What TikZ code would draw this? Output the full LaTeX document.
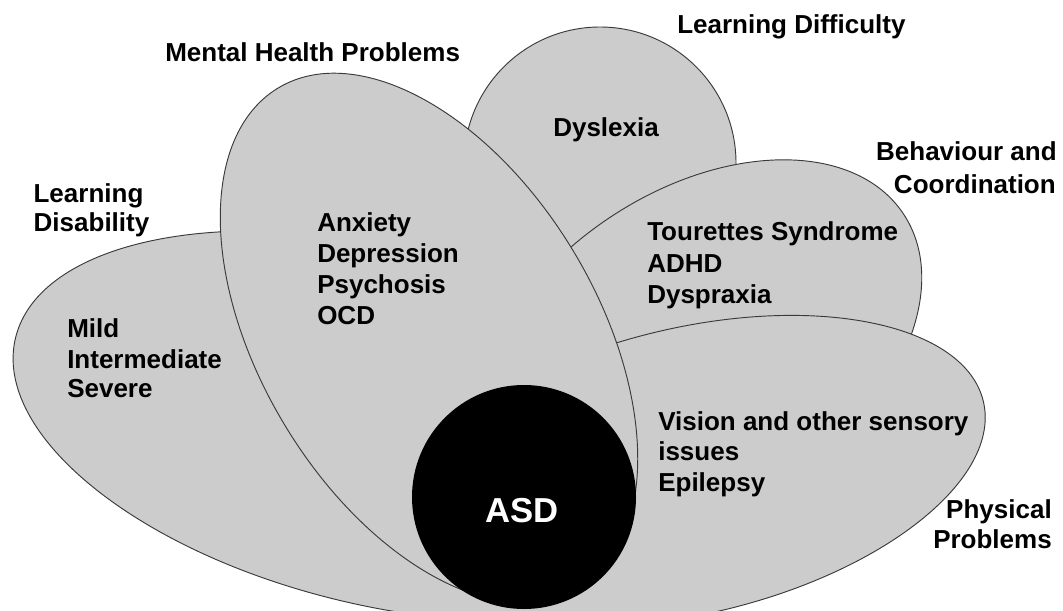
\documentclass[tikz,border=0pt]{standalone}
\usepackage{fontspec}
\setmainfont{Liberation Sans}
\definecolor{petalgray}{HTML}{CCCCCC}
\definecolor{edgegray}{HTML}{3A3A3A}
\begin{document}
\begin{tikzpicture}[x=0.75pt,y=-0.75pt,
  petal/.style={fill=petalgray, draw=edgegray, line width=0.7pt},
  lbl/.style={font=\fontsize{19.5}{23}\selectfont\bfseries, inner sep=0pt, text=black},
  asdlbl/.style={font=\fontsize{26}{30}\selectfont\bfseries, inner sep=0pt, text=white},
]
\useasboundingbox (0,0) rectangle (1063,610);
\clip (0,0) rectangle (1063,610);
\fill[white] (0,0) rectangle (1063,610);
% Learning Disability petal
\path[petal, rotate around={-13.6:(380,426)}] (380,426) ellipse [x radius=375, y radius=179];
% Learning Difficulty petal
\path[petal] (600,163) circle [radius=136];
% Behaviour and Coordination petal
\path[petal, rotate around={33.8:(698,351)}] (698,351) ellipse [x radius=247, y radius=160];
% Physical Problems petal
\begin{scope}
  \clip (490,0) rectangle (1063,610);
  \path[petal, rotate around={13.35:(690,471)}] (690,471) ellipse [x radius=301.5, y radius=143];
\end{scope}
% Mental Health Problems petal
\path[petal, rotate around={-58.9:(429,338)}] (429,338) ellipse [x radius=292, y radius=168.5];
% ASD centre
\node[circle, fill=black, inner sep=0pt, minimum size=168pt] (asd) at (524,497) {};
\node[asdlbl, anchor=base] (asdtext) at (522,522) {ASD};

% outer labels
\node[lbl, anchor=base] (ldisA) at (88.5,202) {Learning};
\node[lbl, anchor=base] (ldisB) at (91.5,231) {Disability};
\node[lbl, anchor=base west] (mhp) at (165,61) {Mental Health Problems};
\node[lbl, anchor=base west] (ldif) at (677,34) {Learning Difficulty};
\node[lbl, anchor=base east] (bcA) at (1057,160) {Behaviour and};
\node[lbl, anchor=base east] (bcB) at (1056,193) {Coordination};
\node[lbl, anchor=base east] (ppA) at (1052,518) {Physical};
\node[lbl, anchor=base east] (ppB) at (1052,548) {Problems};

% inner texts
\node[lbl, anchor=base west] (dys) at (553,136) {Dyslexia};
\node[lbl, anchor=base west] (anx) at (317,231) {Anxiety};
\node[lbl, anchor=base west] (dep) at (317,262) {Depression};
\node[lbl, anchor=base west] (psy) at (317,293) {Psychosis};
\node[lbl, anchor=base west] (ocd) at (317,324) {OCD};
\node[lbl, anchor=base west] (tou) at (647,240) {Tourettes Syndrome};
\node[lbl, anchor=base west] (adhd) at (647,272) {ADHD};
\node[lbl, anchor=base west] (dysp) at (647,303) {Dyspraxia};
\node[lbl, anchor=base west] (mild) at (67,337) {Mild};
\node[lbl, anchor=base west] (inter) at (67,368) {Intermediate};
\node[lbl, anchor=base west] (sev) at (67,397) {Severe};
\node[lbl, anchor=base west] (vis) at (658,430) {Vision and other sensory};
\node[lbl, anchor=base west] (iss) at (658,460) {issues};
\node[lbl, anchor=base west] (epi) at (658,491) {Epilepsy};
\end{tikzpicture}
\end{document}
